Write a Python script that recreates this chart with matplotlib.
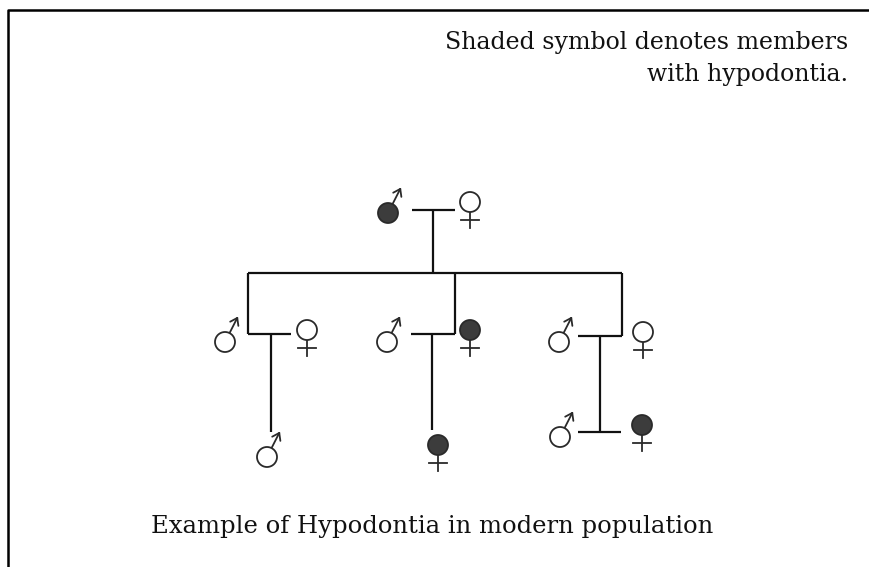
import numpy as np
import matplotlib.pyplot as plt
from matplotlib.patches import Circle

# pedigree members: sex and whether they have hypodontia
sex = ['M', 'F', 'M', 'F', 'M', 'F', 'M', 'F', 'M', 'F', 'M', 'F']
affected = [1, 0, 0, 0, 0, 1, 0, 0, 0, 1, 0, 1]

note_lines = ['Shaded symbol denotes members', 'with hypodontia.']
caption = 'Example of Hypodontia in modern population'

# layout (pixel space of the page)
px = [388, 470, 225, 307, 387, 470, 559, 643, 267, 438, 560, 642]
py = [213, 202, 342, 330, 342, 330, 342, 332, 457, 445, 437, 425]

# connector lines: (x0, y0, x1, y1)
links = [
    (412, 210, 455, 210), (433, 210, 433, 273),
    (248, 273, 622, 273),
    (248, 273, 248, 334), (455, 273, 455, 334), (622, 273, 622, 336),
    (248, 334, 291, 334), (271, 334, 271, 432),
    (411, 334, 455, 334), (432, 334, 432, 430),
    (578, 336, 622, 336), (600, 336, 600, 432),
    (578, 432, 621, 432),
]

W, H = 870, 567
fig = plt.figure(figsize=(W / 100, H / 100), dpi=100)
ax = fig.add_axes([0, 0, 1, 1])
ax.set_xlim(0, W)
ax.set_ylim(H, 0)
ax.axis('off')

ink = '#2a2a2a'
r = 10
lw = 1.3

def male(x, y, filled):
    ax.add_patch(Circle((x, y), r, fc='#3c3c3c' if filled else 'white', ec=ink, lw=lw, zorder=3))
    a = np.radians(63)
    sx, sy = x + r * np.cos(a), y - r * np.sin(a)
    tx, ty = sx + 17 * np.cos(a), sy - 17 * np.sin(a)
    ax.plot([sx, tx], [sy, ty], color=ink, lw=lw, solid_capstyle='round')
    for da in (np.radians(35), -np.radians(35)):
        b = a + np.pi + da
        ax.plot([tx, tx + 8 * np.cos(b)], [ty, ty - 8 * np.sin(b)], color=ink, lw=lw,
                solid_capstyle='round')

def female(x, y, filled):
    ax.add_patch(Circle((x, y), r, fc='#3c3c3c' if filled else 'white', ec=ink, lw=lw, zorder=3))
    ax.plot([x, x], [y + r, y + r + 16], color=ink, lw=lw)
    ax.plot([x - 9, x + 9], [y + r + 8, y + r + 8], color=ink, lw=lw)

for x0, y0, x1, y1 in links:
    ax.plot([x0, x1], [y0, y1], color='#111111', lw=1.6, solid_capstyle='butt')

for s, f, x, y in zip(sex, affected, px, py):
    if s == 'M':
        male(x, y, f)
    else:
        female(x, y, f)

# page frame (left and top edges)
ax.plot([8, 8, W], [H, 10, 10], color='black', lw=1.8)

ax.text(848, 42, note_lines[0], ha='right', va='center', family='DejaVu Serif', fontsize=17, color='#111')
ax.text(848, 74, note_lines[1], ha='right', va='center', family='DejaVu Serif', fontsize=17, color='#111')
ax.text(432, 526, caption, ha='center', va='center', family='DejaVu Serif', fontsize=17.5, color='#111')

fig.savefig('out.png', dpi=100)
